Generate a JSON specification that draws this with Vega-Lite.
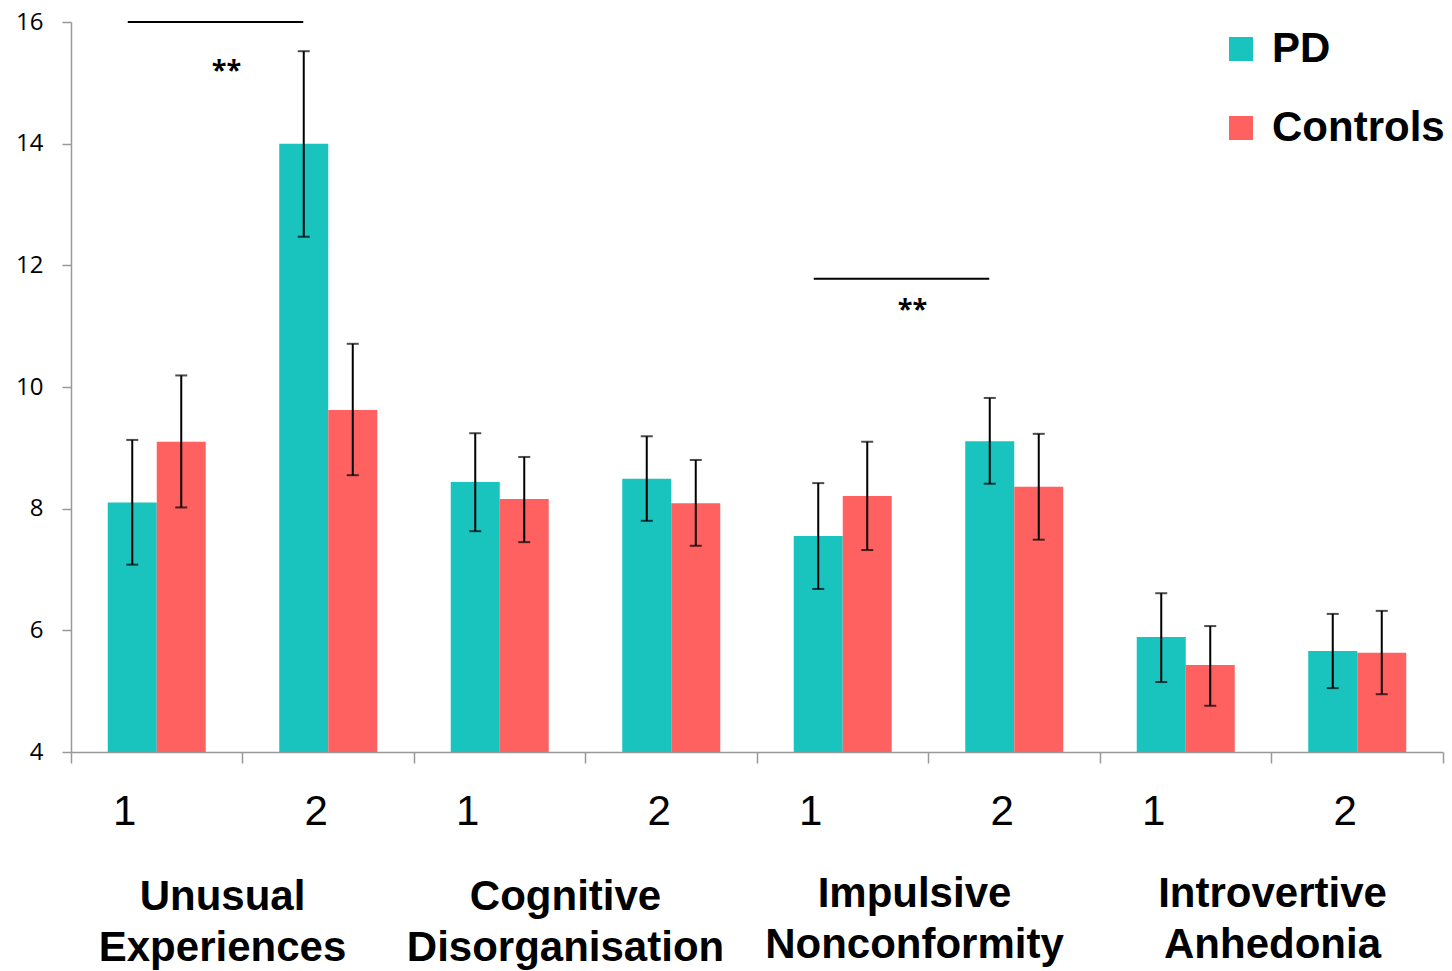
{
  "$schema": "https://vega.github.io/schema/vega-lite/v6.json",
  "width": 1372,
  "height": 730,
  "autosize": {"type": "none"},
  "padding": {"left": 71, "top": 22, "right": 9, "bottom": 219},
  "background": "white",
  "config": {"view": {"stroke": null}, "font": "Liberation Sans"},
  "datasets": {
    "bars": [
      {"cond": "UE1", "group": "PD", "mean": 8.10, "lo": 7.08, "hi": 9.13},
      {"cond": "UE1", "group": "Controls", "mean": 9.10, "lo": 8.02, "hi": 10.19},
      {"cond": "UE2", "group": "PD", "mean": 14.0, "lo": 12.47, "hi": 15.52},
      {"cond": "UE2", "group": "Controls", "mean": 9.62, "lo": 8.55, "hi": 10.71},
      {"cond": "CD1", "group": "PD", "mean": 8.44, "lo": 7.63, "hi": 9.24},
      {"cond": "CD1", "group": "Controls", "mean": 8.16, "lo": 7.45, "hi": 8.85},
      {"cond": "CD2", "group": "PD", "mean": 8.49, "lo": 7.80, "hi": 9.19},
      {"cond": "CD2", "group": "Controls", "mean": 8.09, "lo": 7.39, "hi": 8.80},
      {"cond": "IN1", "group": "PD", "mean": 7.55, "lo": 6.68, "hi": 8.42},
      {"cond": "IN1", "group": "Controls", "mean": 8.21, "lo": 7.32, "hi": 9.10},
      {"cond": "IN2", "group": "PD", "mean": 9.11, "lo": 8.41, "hi": 9.82},
      {"cond": "IN2", "group": "Controls", "mean": 8.36, "lo": 7.49, "hi": 9.23},
      {"cond": "IA1", "group": "PD", "mean": 5.89, "lo": 5.15, "hi": 6.61},
      {"cond": "IA1", "group": "Controls", "mean": 5.43, "lo": 4.76, "hi": 6.07},
      {"cond": "IA2", "group": "PD", "mean": 5.66, "lo": 5.05, "hi": 6.27},
      {"cond": "IA2", "group": "Controls", "mean": 5.63, "lo": 4.95, "hi": 6.32}
    ],
    "sig": [
      {"from": "UE1", "to": "UE2", "y": 16, "sy": 15.07, "mid": "UE2", "stars": "**"},
      {"from": "IN1", "to": "IN2", "y": 11.78, "sy": 11.13, "mid": "IN2", "stars": "**"}
    ],
    "nums": [
      {"cond": "UE1", "num": "1"}, {"cond": "UE2", "num": "2"},
      {"cond": "CD1", "num": "1"}, {"cond": "CD2", "num": "2"},
      {"cond": "IN1", "num": "1"}, {"cond": "IN2", "num": "2"},
      {"cond": "IA1", "num": "1"}, {"cond": "IA2", "num": "2"}
    ],
    "groups": [
      {"cond": "UE2", "label": ["Unusual", "Experiences"]},
      {"cond": "CD2", "label": ["Cognitive", "Disorganisation"]},
      {"cond": "IN2", "label": ["Impulsive", "Nonconformity"]},
      {"cond": "IA2", "label": ["Introvertive", "Anhedonia"]}
    ]
  },
  "layer": [
    {
      "data": {"name": "bars"},
      "mark": {"type": "bar"},
      "encoding": {
        "x": {
          "field": "cond", "type": "nominal",
          "scale": {"domain": ["UE1", "UE2", "CD1", "CD2", "IN1", "IN2", "IA1", "IA2"], "paddingInner": 0, "paddingOuter": 0},
          "axis": {
            "title": null, "bandPosition": 1, "tickExtra": true, "labels": false,
            "domainColor": "#999999", "tickColor": "#999999", "domainWidth": 1.5, "tickWidth": 1.5, "tickSize": 11
          }
        },
        "xOffset": {"field": "group", "type": "nominal", "scale": {"domain": ["PD", "Controls"], "paddingInner": 0, "paddingOuter": 0.75}},
        "y": {
          "field": "mean", "type": "quantitative",
          "scale": {"domain": [4, 16], "nice": false, "zero": false},
          "axis": {
            "title": null, "values": [4, 6, 8, 10, 12, 14, 16], "format": "d", "grid": false,
            "domainColor": "#999999", "tickColor": "#999999", "domainWidth": 1.5, "tickWidth": 1.5, "tickSize": 9,
            "labelFontSize": 24, "labelFont": "Open Sans", "labelColor": "#000000", "labelPadding": 19
          }
        },
        "y2": {"datum": 4},
        "color": {
          "field": "group", "type": "nominal",
          "scale": {"domain": ["PD", "Controls"], "range": ["#19C3BE", "#FF6161"]},
          "legend": {
            "orient": "none", "legendX": 1149, "legendY": 6, "title": null, "padding": 0,
            "symbolType": "square", "symbolSize": 576, "symbolStrokeWidth": 0,
            "labelFontSize": 42, "labelFont": "Liberation Sans", "labelFontWeight": "bold", "labelColor": "#000000",
            "labelOffset": 10, "rowPadding": 37, "labelLimit": 400
          }
        }
      }
    },
    {
      "data": {"name": "bars"},
      "mark": {"type": "rule", "color": "black", "strokeWidth": 2},
      "encoding": {
        "x": {"field": "cond", "type": "nominal"},
        "xOffset": {"field": "group", "type": "nominal"},
        "y": {"field": "lo", "type": "quantitative"},
        "y2": {"field": "hi"}
      }
    },
    {
      "data": {"name": "bars"},
      "mark": {"type": "tick", "color": "black", "size": 12, "thickness": 2},
      "encoding": {
        "x": {"field": "cond", "type": "nominal"},
        "xOffset": {"field": "group", "type": "nominal"},
        "y": {"field": "lo", "type": "quantitative"}
      }
    },
    {
      "data": {"name": "bars"},
      "mark": {"type": "tick", "color": "black", "size": 12, "thickness": 2},
      "encoding": {
        "x": {"field": "cond", "type": "nominal"},
        "xOffset": {"field": "group", "type": "nominal"},
        "y": {"field": "hi", "type": "quantitative"}
      }
    },
    {
      "data": {"name": "sig"},
      "mark": {"type": "rule", "color": "black", "strokeWidth": 2, "xOffset": -29, "x2Offset": -25},
      "encoding": {
        "x": {"field": "from", "type": "nominal"},
        "x2": {"field": "to"},
        "y": {"field": "y", "type": "quantitative"}
      }
    },
    {
      "data": {"name": "sig"},
      "mark": {"type": "text", "font": "Open Sans", "fontWeight": "bold", "fontSize": 27, "dx": -16, "baseline": "alphabetic", "align": "center", "color": "black"},
      "encoding": {
        "x": {"field": "mid", "type": "nominal", "bandPosition": 0},
        "y": {"field": "sy", "type": "quantitative"},
        "text": {"field": "stars"}
      }
    },
    {
      "data": {"name": "nums"},
      "transform": [{"filter": "datum.num == '1'"}],
      "mark": {"type": "text", "font": "Liberation Sans", "fontSize": 42, "dx": -32, "baseline": "alphabetic", "align": "center", "color": "black"},
      "encoding": {
        "x": {"field": "cond", "type": "nominal"},
        "y": {"datum": 2.8, "type": "quantitative"},
        "text": {"field": "num"}
      }
    },
    {
      "data": {"name": "nums"},
      "transform": [{"filter": "datum.num == '2'"}],
      "mark": {"type": "text", "font": "Liberation Sans", "fontSize": 42, "dx": -12, "baseline": "alphabetic", "align": "center", "color": "black"},
      "encoding": {
        "x": {"field": "cond", "type": "nominal"},
        "y": {"datum": 2.8, "type": "quantitative"},
        "text": {"field": "num"}
      }
    },
    {
      "data": {"name": "groups"},
      "transform": [{"filter": "datum.cond == 'UE2' || datum.cond == 'CD2'"}],
      "mark": {"type": "text", "font": "Liberation Sans", "fontWeight": "bold", "fontSize": 42, "lineHeight": 51, "dx": -20, "baseline": "alphabetic", "align": "center", "color": "black"},
      "encoding": {
        "x": {"field": "cond", "type": "nominal", "bandPosition": 0},
        "y": {"datum": 1.4, "type": "quantitative"},
        "text": {"field": "label"}
      }
    },
    {
      "data": {"name": "groups"},
      "transform": [{"filter": "datum.cond == 'IN2'"}],
      "mark": {"type": "text", "font": "Liberation Sans", "fontWeight": "bold", "fontSize": 42, "lineHeight": 51, "dx": -14, "baseline": "alphabetic", "align": "center", "color": "black"},
      "encoding": {
        "x": {"field": "cond", "type": "nominal", "bandPosition": 0},
        "y": {"datum": 1.45, "type": "quantitative"},
        "text": {"field": "label"}
      }
    },
    {
      "data": {"name": "groups"},
      "transform": [{"filter": "datum.cond == 'IA2'"}],
      "mark": {"type": "text", "font": "Liberation Sans", "fontWeight": "bold", "fontSize": 42, "lineHeight": 51, "dx": 1, "baseline": "alphabetic", "align": "center", "color": "black"},
      "encoding": {
        "x": {"field": "cond", "type": "nominal", "bandPosition": 0},
        "y": {"datum": 1.45, "type": "quantitative"},
        "text": {"field": "label"}
      }
    }
  ]
}
